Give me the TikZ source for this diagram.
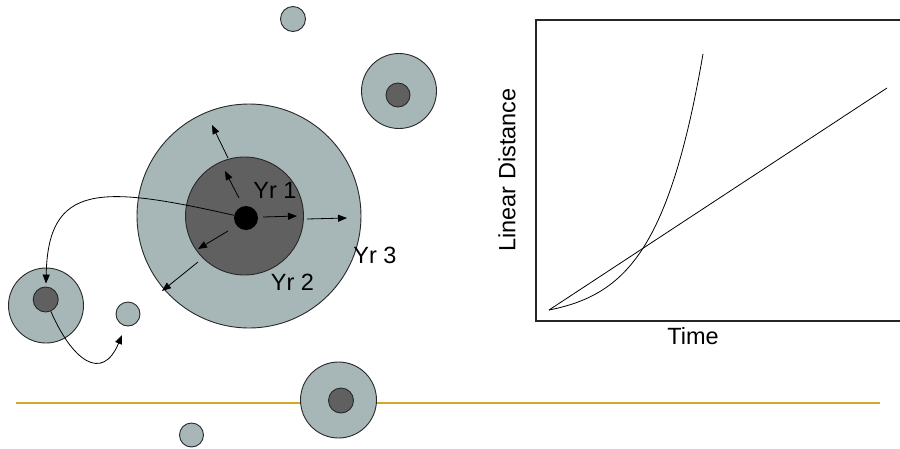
\documentclass[tikz,border=0pt]{standalone}
\usepackage{fontspec}
\setmainfont{Liberation Sans}
\usetikzlibrary{arrows.meta}
\definecolor{ringfill}{RGB}{167,183,183}
\definecolor{corefill}{RGB}{96,96,96}
\definecolor{edgecol}{RGB}{40,40,40}
\definecolor{goldline}{RGB}{214,168,40}
\begin{document}
\begin{tikzpicture}[x=1pt,y=-1pt,
  ring/.style={circle,inner sep=0pt,draw=edgecol,line width=0.9pt,fill=ringfill,minimum size=#1},
  core/.style={circle,inner sep=0pt,draw=edgecol,line width=0.9pt,fill=corefill,minimum size=#1},
  arr/.style={line width=0.8pt,-{Triangle[length=9pt,width=7pt]}},
  lbl/.style={inner sep=0pt,font=\fontsize{23.5}{28}\selectfont}]
\useasboundingbox (0,0) rectangle (900,448);
% gold line
\draw[goldline,line width=2.6pt] (16,403) coordinate (gl) -- (880,403) coordinate (gr);
% big body
\node[ring=224pt] (outer) at (249,216) {};
\node[core=118pt] (inner) at (244.5,216) {};
\node[circle,inner sep=0pt,fill=black,minimum size=24pt] (dot) at (246,218) {};
% other bodies
\node[ring=25pt] (topsmall) at (293,19) {};
\node[ring=75pt] (trout) at (399,91) {};
\node[core=24pt] (trin) at (398,95) {};
\node[ring=75pt] (lout) at (46,305.5) {};
\node[core=25pt] (lin) at (45.7,299.5) {};
\node[ring=24pt] (lsmall) at (128,314) {};
\node[ring=76pt] (bout) at (338.5,400) {};
\node[core=25pt] (bin) at (341,400.5) {};
\node[ring=24pt] (bsmall) at (191.5,435) {};
% radial arrows
\coordinate (a1s) at (239,198); \coordinate (a1e) at (225,171);
\coordinate (a2s) at (228,158); \coordinate (a2e) at (212,125);
\coordinate (a3s) at (263,217); \coordinate (a3e) at (297,216);
\coordinate (a4s) at (307,219); \coordinate (a4e) at (347,218);
\coordinate (a5s) at (228,231); \coordinate (a5e) at (198,249);
\coordinate (a6s) at (198,262); \coordinate (a6e) at (162,291);
\draw[arr] (a1s) -- (a1e);
\draw[arr] (a2s) -- (a2e);
\draw[arr] (a3s) -- (a3e);
\draw[arr] (a4s) -- (a4e);
\draw[arr] (a5s) -- (a5e);
\draw[arr] (a6s) -- (a6e);
% curved arrows
\draw[arr,shorten >=3pt] (dot) .. controls (100,185) and (48,183) .. (lin);
\coordinate (tip) at (122,335);
\draw[arr] (lin) .. controls (72,360) and (102,383) .. (tip);
% labels
\node[lbl] (yr1) at (275,190) {Yr 1};
\node[lbl] (yr2) at (292.5,282) {Yr 2};
\node[lbl] (yr3) at (375,255) {Yr 3};
% graph
\coordinate (o) at (549,310);
\coordinate (lend) at (887,88);
\draw[black!85,line width=1.1pt] (900,20) -- (536,20) coordinate (boxtl) -- (536,321) coordinate (boxbl) -- (900,321);
\draw[line width=0.8pt] (o) -- (lend);
\draw[line width=0.8pt] plot[domain=0:154,samples=100] ({549+\x},{310-8.95*(exp(0.022*\x)-1)});
\node[lbl] (time) at (693,336) {Time};
\node[lbl,rotate=90] (dist) at (507,170) {Linear Distance};
\end{tikzpicture}
\end{document}
